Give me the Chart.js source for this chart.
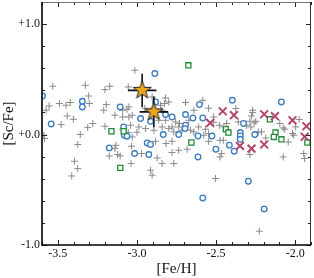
<!DOCTYPE html>
<html>
<head>
<meta charset="utf-8">
<script src="https://cdn.jsdelivr.net/npm/chart.js@4.4.0/dist/chart.umd.min.js"></script>
<style>
  body { margin: 0; background: #fff; }
  #wrap { width: 314px; height: 278px; }
</style>
</head>
<body>
<div id="wrap"><canvas id="scChart" width="314" height="278"></canvas></div>
<script>
// [Fe/H] / [Sc/Fe], one pair of arrays per sample
const plusFeH = [
  -3.532,-3.326,-3.305,-3.202,-3.172,-3.055,-3.301,-3.555,-3.574,-3.490,
  -3.448,-3.421,-3.194,-3.210,-3.090,-3.063,-3.139,-3.441,-3.402,-3.479,
  -3.279,-3.311,-3.202,-3.090,-3.051,-3.358,-3.584,-3.588,-3.374,-3.133,
  -3.139,-3.175,-3.122,-3.106,-3.395,-3.374,-3.412,-3.037,-3.090,-3.055,
  -3.030,-3.034,-3.013,-2.819,-2.799,-2.693,-2.584,-2.826,-3.030,-3.051,
  -2.851,-2.841,-2.819,-2.756,-2.736,-2.610,-2.515,-3.040,-2.841,-2.778,
  -2.375,-2.269,-2.276,-2.249,-2.286,-2.307,-1.975,-2.097,-2.076,-2.359,
  -2.433,-2.450,-1.997,-2.076,-1.946,-1.940,-2.044,-2.009,-2.066,-2.475,
  -2.454,-2.475,-2.465,-2.286,-2.233,-2.213,-2.186,-2.504,-2.227,-2.882,
  -2.816,-2.778,-2.736,-2.778,-2.841,-2.767,-2.872,-2.914,-2.904,-2.971,
  -2.547,-2.578,-2.683,-2.731,-2.479,-2.259,-2.280,-2.017,-2.269,-2.988,
  -2.945,-2.893,-2.799,-2.767,-2.715,-2.662,-2.641,-2.567,-2.547,-2.950,
  -2.862,-2.640,-2.547,-3.000,-2.672,-2.515,-2.904,-2.900
];
const plusScFe = [
  0.437,0.446,0.349,0.407,0.437,0.431,0.281,0.259,0.220,0.281,
  0.265,0.290,0.271,0.220,0.220,0.229,0.175,0.168,0.138,0.090,
  0.100,0.063,0.075,0.159,0.159,0.000,-0.036,-0.006,-0.090,-0.097,
  -0.127,-0.194,-0.181,-0.194,-0.242,-0.308,-0.375,-0.262,0.048,0.018,
  -0.022,-0.106,0.582,0.331,0.295,0.290,0.310,0.281,0.175,0.250,
  0.265,0.220,0.129,0.114,0.069,0.069,0.159,0.084,0.069,0.069,
  0.235,0.199,0.168,0.120,0.120,0.084,0.136,0.100,0.060,0.114,
  0.100,0.069,0.069,-0.203,-0.172,-0.217,-0.067,-0.006,0.048,-0.052,
  -0.052,-0.203,-0.172,-0.181,0.024,0.024,-0.031,-0.398,-0.875,-0.061,
  -0.081,-0.061,-0.142,-0.163,-0.262,-0.262,-0.212,-0.323,-0.368,-0.172,
  -0.061,-0.006,-0.133,0.100,0.084,0.105,0.069,0.009,0.220,0.069,
  0.054,0.039,0.054,0.024,0.039,0.039,0.024,0.048,0.009,0.238,
  0.129,0.220,0.238,0.021,0.129,0.111,0.340,0.238
];

const circleFeH = [
  -3.597,-3.345,-3.345,-3.106,-3.542,-3.084,-3.080,-3.063,-3.175,-3.015,
  -2.935,-2.914,-2.925,-2.887,-2.605,-2.819,-2.778,-2.693,-2.646,-2.584,
  -2.977,-2.914,-2.693,-2.696,-2.882,-2.397,-2.087,-2.326,-2.834,-2.736,
  -2.614,-2.526,-2.501,-2.614,-2.584,-2.347,-2.347,-2.347,-2.255,-2.416,
  -2.385,-2.296,-2.196
];
const circleScFe = [
  0.349,0.301,0.250,0.250,0.096,0.069,-0.006,-0.015,-0.121,-0.172,
  -0.076,-0.090,-0.181,0.552,0.271,0.181,0.159,0.181,0.150,0.150,
  0.145,0.120,0.084,0.054,0.295,0.310,0.295,0.100,0.000,0.000,
  -0.013,-0.013,-0.133,-0.203,-0.574,0.018,-0.013,-0.043,0.000,-0.097,
  -0.151,-0.423,-0.673
];

const squareFeH = [-3.161,-3.084,-3.105,-2.675,-2.656,-2.160,-2.438,-2.422,-2.124,-2.135,-2.087,-1.923];
const squareScFe = [0.030,0.030,-0.302,0.627,-0.072,0.138,0.048,0.018,0.018,-0.022,-0.043,-0.072];

const crossFeH = [-2.537,-2.458,-2.387,-2.196,-2.128,-2.017,-1.929,-1.940,-2.349,-2.276,-2.196];
const crossScFe = [0.105,0.211,0.175,0.184,0.166,0.129,0.075,-0.020,-0.103,-0.127,-0.090];

const starFeH = [-2.967, -2.893];
const starScFe = [0.40, 0.205];
const starErrFeH = [0.09, 0.09];
const starErrScFe = [0.15, 0.14];

const xTickLabels = ['-3.5', '-3.0', '-2.5', '-2.0'];
const yTickLabels = { '-1': '-1.0', '0': '+0.0', '1': '+1.0' };

const toPoints = (xs, ys) => xs.map((v, i) => ({ x: v, y: ys[i] }));
const serif = "'Liberation Serif', 'DejaVu Serif', serif";

// filled five-point star used as point style
function makeStar(r) {
  const c = document.createElement('canvas');
  const s = Math.ceil(r * 2 + 4);
  c.width = c.height = s;
  const g = c.getContext('2d');
  g.beginPath();
  for (let i = 0; i < 10; i++) {
    const rad = i % 2 ? r * 0.4 : r;
    const ang = -Math.PI / 2 + i * Math.PI / 5;
    g.lineTo(s / 2 + rad * Math.cos(ang), s / 2 + rad * Math.sin(ang));
  }
  g.closePath();
  g.fillStyle = '#eaa822';
  g.fill();
  g.lineWidth = 1;
  g.strokeStyle = '#222';
  g.stroke();
  return c;
}

const near = (v, step) => Math.abs(v / step - Math.round(v / step)) < 1e-6;

const errorBars = {
  id: 'errorBars',
  beforeDatasetDraw(chart, args) {
    if (args.index !== 4) return;
    const { ctx, scales: { x, y } } = chart;
    ctx.save();
    ctx.strokeStyle = '#111';
    ctx.lineWidth = 1.6;
    starFeH.forEach((fe, i) => {
      const sc = starScFe[i];
      ctx.beginPath();
      ctx.moveTo(x.getPixelForValue(fe - starErrFeH[i]), y.getPixelForValue(sc));
      ctx.lineTo(x.getPixelForValue(fe + starErrFeH[i]), y.getPixelForValue(sc));
      ctx.moveTo(x.getPixelForValue(fe), y.getPixelForValue(sc - starErrScFe[i]));
      ctx.lineTo(x.getPixelForValue(fe), y.getPixelForValue(sc + starErrScFe[i]));
      ctx.stroke();
    });
    ctx.restore();
  }
};

// box frame with inward ticks on all four sides
const frameTicks = {
  id: 'frameTicks',
  afterDatasetsDraw(chart) {
    const { ctx, chartArea: a, scales: { x, y } } = chart;
    ctx.save();
    ctx.lineWidth = 1;
    ctx.strokeStyle = '#222';
    ctx.beginPath();
    x.ticks.forEach(t => {
      const px = Math.round(x.getPixelForValue(t.value)) + 0.5;
      const len = near(t.value, 0.5) ? 5 : 3;
      ctx.moveTo(px, a.bottom); ctx.lineTo(px, a.bottom - len);
      ctx.moveTo(px, a.top); ctx.lineTo(px, a.top + len);
    });
    y.ticks.forEach(t => {
      const py = Math.round(y.getPixelForValue(t.value)) + 0.5;
      const len = near(t.value, 1) ? 5 : 3;
      ctx.moveTo(a.left, py); ctx.lineTo(a.left + len, py);
      ctx.moveTo(a.right, py); ctx.lineTo(a.right - len, py);
    });
    ctx.stroke();

    ctx.strokeStyle = '#777';
    ctx.beginPath();
    ctx.moveTo(a.left, a.top + 0.5); ctx.lineTo(a.right, a.top + 0.5);
    ctx.stroke();
    ctx.strokeStyle = '#333';
    ctx.beginPath();
    ctx.moveTo(a.right - 0.5, a.top); ctx.lineTo(a.right - 0.5, a.bottom);
    ctx.stroke();

    ctx.strokeStyle = '#000';
    ctx.lineWidth = 1.6;
    ctx.beginPath();
    ctx.moveTo(a.left, a.top); ctx.lineTo(a.left, a.bottom); ctx.lineTo(a.right, a.bottom);
    ctx.stroke();
    ctx.restore();
  }
};

const ctx = document.getElementById('scChart').getContext('2d');
new Chart(ctx, {
  type: 'scatter',
  data: {
    datasets: [
      {
        data: toPoints(plusFeH, plusScFe),
        pointStyle: 'cross', pointRadius: 3.5, borderWidth: 1,
        borderColor: '#8a8a8a', backgroundColor: '#8a8a8a', order: 5
      },
      {
        data: toPoints(circleFeH, circleScFe),
        pointStyle: 'circle', pointRadius: 2.8, borderWidth: 1.3,
        borderColor: '#3b7bbf', backgroundColor: '#fff', order: 4
      },
      {
        data: toPoints(squareFeH, squareScFe),
        pointStyle: 'rect', pointRadius: 3.6, borderWidth: 1.3,
        borderColor: '#238a35', backgroundColor: '#fff', order: 3
      },
      {
        data: toPoints(crossFeH, crossScFe),
        pointStyle: 'crossRot', pointRadius: 5.5, borderWidth: 2,
        borderColor: '#b3436b', backgroundColor: '#b3436b', order: 2
      },
      {
        data: toPoints(starFeH, starScFe),
        pointStyle: makeStar(9.5), pointRadius: 9.5, order: 1
      }
    ]
  },
  options: {
    responsive: false,
    animation: false,
    layout: { autoPadding: false, padding: { top: 2, right: 3, left: 0, bottom: 0 } },
    plugins: { legend: { display: false }, tooltip: { enabled: false } },
    scales: {
      x: {
        type: 'linear', min: -3.6, max: -1.9,
        grid: { display: false, drawTicks: false },
        border: { display: false },
        ticks: {
          stepSize: 0.1, autoSkip: false, maxRotation: 0, padding: 2,
          color: '#111', font: { family: serif, size: 12 },
          callback: v => near(v, 0.5) ? xTickLabels.find(l => Math.abs(parseFloat(l) - v) < 1e-6) || '' : ''
        },
        title: { display: true, text: '[Fe/H]', color: '#111', padding: 0, font: { family: serif, size: 15 } },
        afterFit: s => { s.height = 33; s.paddingLeft = 0; s.paddingRight = 0; }
      },
      y: {
        type: 'linear', min: -1.0, max: 1.2,
        grid: { display: false, drawTicks: false },
        border: { display: false },
        ticks: {
          stepSize: 0.2, autoSkip: false, padding: 2,
          color: '#111', font: { family: serif, size: 12 },
          callback: v => near(v, 1) ? (yTickLabels[String(Math.round(v))] || '') : ''
        },
        title: { display: true, text: '[Sc/Fe]', color: '#111', padding: 0, font: { family: serif, size: 15 } },
        afterFit: s => { s.width = 42; s.paddingTop = 0; s.paddingBottom = 0; }
      }
    }
  },
  plugins: [errorBars, frameTicks]
});
</script>
</body>
</html>
